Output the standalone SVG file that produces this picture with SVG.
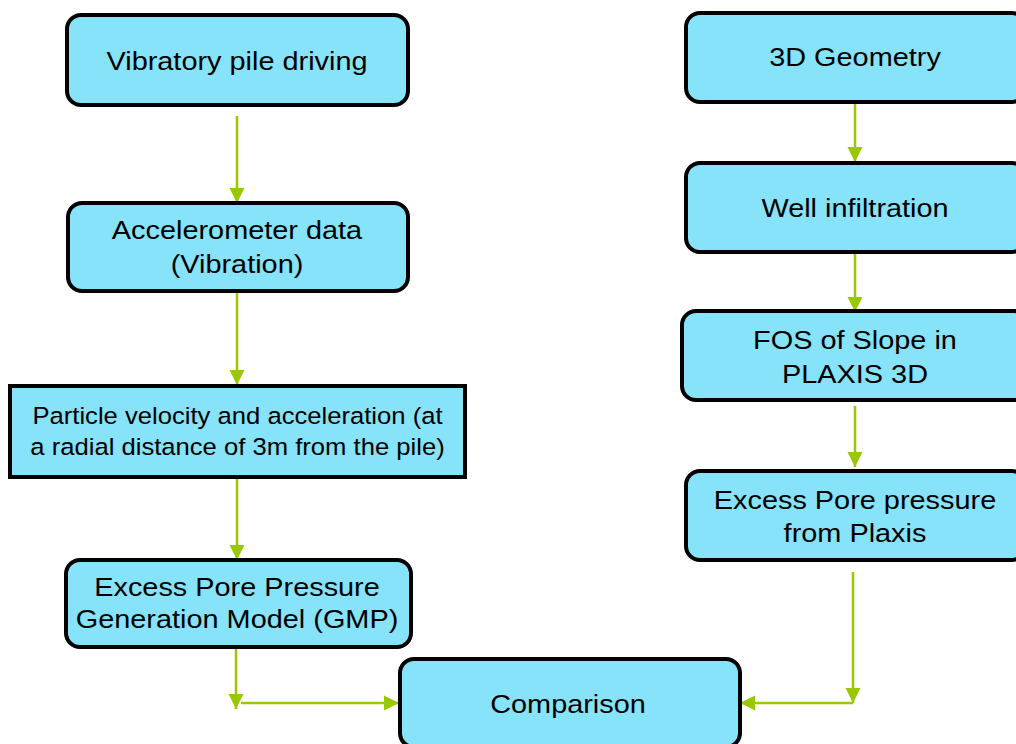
<svg xmlns="http://www.w3.org/2000/svg" width="1016" height="744" viewBox="0 0 1016 744">
<defs>
<style>
.box{fill:#86E3FA;stroke:#000;stroke-width:4}
.t{font-family:"Liberation Sans",Arial,sans-serif;font-size:26.5px;fill:#000;text-anchor:middle}
.ts{font-size:23.3px}
.c{stroke:#99C800;stroke-width:2.5;fill:none}
</style>
<marker id="ah" markerUnits="userSpaceOnUse" markerWidth="16" markerHeight="16" viewBox="0 0 16 16" refX="15" refY="8" orient="auto">
<path d="M0,0.5 L15,8 L0,15.5 Z" fill="#99C800"/>
</marker>
</defs>
<rect width="1016" height="744" fill="#fff"/>
<g id="connectors">
<path class="c" d="M237,116 V203" marker-end="url(#ah)"/>
<path class="c" d="M237,291 V385" marker-end="url(#ah)"/>
<path class="c" d="M237,477 V560" marker-end="url(#ah)"/>
<path class="c" d="M236,647 V709" marker-end="url(#ah)"/>
<path class="c" d="M241,703 H399" marker-end="url(#ah)"/>
<path class="c" d="M855,102 V162" marker-end="url(#ah)"/>
<path class="c" d="M855,252 V312" marker-end="url(#ah)"/>
<path class="c" d="M855,406 V467" marker-end="url(#ah)"/>
<path class="c" d="M853,572 V703" marker-end="url(#ah)"/>
<path class="c" d="M853,703 H740" marker-end="url(#ah)"/>
</g>
<g id="n1"><rect class="box" x="67" y="15" width="341" height="90" rx="14"/>
<text class="t" transform="translate(237,70) scale(1.09,1)">Vibratory pile driving</text></g>
<g id="n2"><rect class="box" x="68" y="203" width="340" height="88" rx="14"/>
<text class="t" transform="translate(237,239) scale(1.09,1)"><tspan x="0" y="0">Accelerometer data</tspan><tspan x="0" y="34">(Vibration)</tspan></text></g>
<g id="n3"><rect class="box" x="10" y="386" width="455" height="91"/>
<text class="t ts" transform="translate(237.5,424) scale(1.1,1)"><tspan x="0" y="0">Particle velocity and acceleration (at</tspan><tspan x="0" y="31">a radial distance of 3m from the pile)</tspan></text></g>
<g id="n4"><rect class="box" x="66" y="560" width="345" height="87" rx="14"/>
<text class="t" transform="translate(237,596) scale(1.09,1)"><tspan x="0" y="0">Excess Pore Pressure</tspan><tspan x="0" y="32">Generation Model (GMP)</tspan></text></g>
<g id="n5"><rect class="box" x="686" y="13" width="340" height="89" rx="14"/>
<text class="t" transform="translate(855,66) scale(1.09,1)">3D Geometry</text></g>
<g id="n6"><rect class="box" x="686" y="163" width="340" height="89" rx="14"/>
<text class="t" transform="translate(855,217) scale(1.09,1)">Well infiltration</text></g>
<g id="n7"><rect class="box" x="682" y="311" width="346" height="89" rx="14"/>
<text class="t" transform="translate(855,349) scale(1.09,1)"><tspan x="0" y="0">FOS of Slope in</tspan><tspan x="0" y="34">PLAXIS 3D</tspan></text></g>
<g id="n8"><rect class="box" x="686" y="471" width="340" height="89" rx="14"/>
<text class="t" transform="translate(855,509) scale(1.09,1)"><tspan x="0" y="0">Excess Pore pressure</tspan><tspan x="0" y="33">from Plaxis</tspan></text></g>
<g id="n9"><rect class="box" x="400" y="659" width="340" height="88" rx="14"/>
<text class="t" transform="translate(568,713) scale(1.09,1)">Comparison</text></g>
</svg>
